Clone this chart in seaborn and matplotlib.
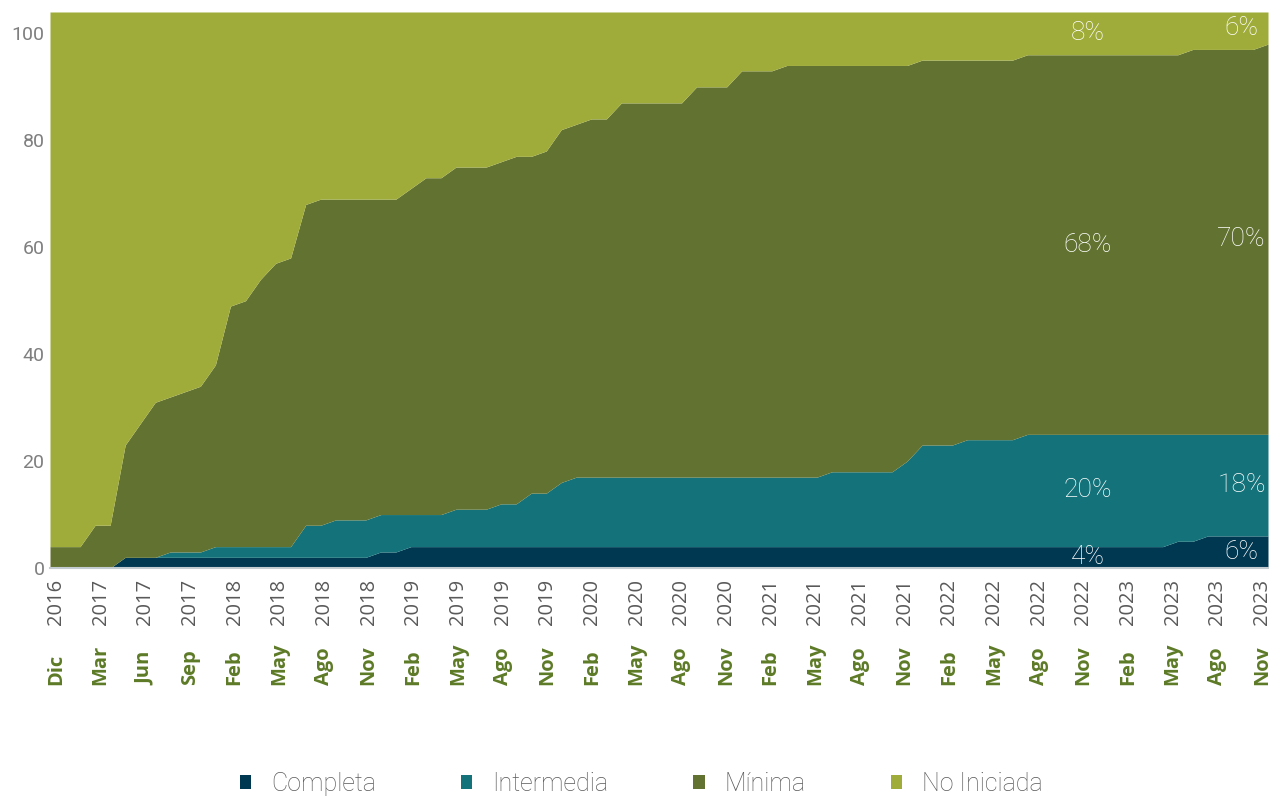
import seaborn as sns
import pandas as pd
import numpy as np
import matplotlib.pyplot as plt
from matplotlib.patches import Patch

# monthly counts per state (82 reports, total 104)
completa = [0, 0, 0, 0, 0, 2, 2, 2, 2, 2, 2, 2, 2, 2, 2, 2, 2, 2, 2, 2,
            2, 2, 3, 3, 4, 4, 4, 4, 4, 4, 4, 4, 4, 4, 4, 4, 4, 4, 4, 4,
            4, 4, 4, 4, 4, 4, 4, 4, 4, 4, 4, 4, 4, 4, 4, 4, 4, 4, 4, 4,
            4, 4, 4, 4, 4, 4, 4, 4, 4, 4, 4, 4, 4, 4, 4, 5, 5, 6, 6, 6, 6, 6]
intermedia = [0, 0, 0, 0, 0, 0, 0, 0, 1, 1, 1, 2, 2, 2, 2, 2, 2, 6, 6, 7,
              7, 7, 7, 7, 6, 6, 6, 7, 7, 7, 8, 8, 10, 10, 12, 13, 13, 13, 13, 13,
              13, 13, 13, 13, 13, 13, 13, 13, 13, 13, 13, 13, 14, 14, 14, 14, 14, 16, 19, 19,
              19, 20, 20, 20, 20, 21, 21, 21, 21, 21, 21, 21, 21, 21, 21, 20, 20, 19, 19, 19, 19, 19]
minima = [4, 4, 4, 8, 8, 21, 25, 29, 29, 30, 31, 34, 45, 46, 50, 53, 54, 60, 61, 60,
          60, 60, 59, 59, 61, 63, 63, 64, 64, 64, 64, 65, 63, 64, 66, 66, 67, 67, 70, 70,
          70, 70, 70, 73, 73, 73, 76, 76, 76, 77, 77, 77, 76, 76, 76, 76, 76, 74, 72, 72,
          72, 71, 71, 71, 71, 71, 71, 71, 71, 71, 71, 71, 71, 71, 71, 71, 72, 72, 72, 72, 72, 73]
no_iniciada = [100, 100, 100, 96, 96, 81, 77, 73, 72, 71, 70, 66, 55, 54, 50, 47, 46, 36, 35, 35,
               35, 35, 35, 35, 33, 31, 31, 29, 29, 29, 28, 27, 27, 26, 22, 21, 20, 20, 17, 17,
               17, 17, 17, 14, 14, 14, 11, 11, 11, 10, 10, 10, 10, 10, 10, 10, 10, 10, 9, 9,
               9, 9, 9, 9, 9, 8, 8, 8, 8, 8, 8, 8, 8, 8, 8, 8, 7, 7, 7, 7, 7, 6]

tick_months = ["Dic", "Mar", "Jun", "Sep", "Feb", "May", "Ago", "Nov", "Feb", "May", "Ago", "Nov",
               "Feb", "May", "Ago", "Nov", "Feb", "May", "Ago", "Nov", "Feb", "May", "Ago", "Nov",
               "Feb", "May", "Ago", "Nov"]
tick_years = ["2016", "2017", "2017", "2017", "2018", "2018", "2018", "2018", "2019", "2019", "2019", "2019",
              "2020", "2020", "2020", "2020", "2021", "2021", "2021", "2021", "2022", "2022", "2022", "2022",
              "2023", "2023", "2023", "2023"]

estados = ["Completa", "Intermedia", "Mínima", "No Iniciada"]
colores = {"Completa": "#003852", "Intermedia": "#14737a", "Mínima": "#627331", "No Iniciada": "#9fac39"}
series = {"Completa": completa, "Intermedia": intermedia, "Mínima": minima, "No Iniciada": no_iniciada}

n = len(completa)
rows = []
for est in estados:
    for i, v in enumerate(series[est]):
        rows.append({"idx": i, "estado": est, "valor": v})
df = pd.DataFrame(rows)

sns.set_theme(style="white")
plt.rcParams['font.family'] = ['Roboto', 'DejaVu Sans']

fig = plt.figure(figsize=(12.7, 7.98), dpi=100)
ax = fig.add_axes([50 / 1270, 1 - 568 / 798, 1218 / 1270, 556 / 798])

sns.histplot(data=df, x="idx", weights="valor", hue="estado",
             hue_order=estados[::-1], palette=colores, multiple="stack",
             element="poly", discrete=True, alpha=1, linewidth=0,
             legend=False, ax=ax)

total = np.array(completa) + np.array(intermedia) + np.array(minima) + np.array(no_iniciada)
ax.set_xlim(0, n - 1)
ax.set_ylim(0, total.max())
ax.set_xlabel("")
ax.set_ylabel("")

ax.set_yticks([0, 20, 40, 60, 80, 100])
ax.tick_params(axis="y", length=0, pad=4, labelsize=14, labelcolor="#7f7f7f")

tick_pos = list(range(0, n, 3))
ax.set_xticks(tick_pos)
ax.set_xticklabels([])
ax.tick_params(axis="x", length=0)
trans = ax.get_xaxis_transform()
# labels sit slightly inside the first/last category, like the original
for k, (p, m, y) in enumerate(zip(tick_pos, tick_months, tick_years)):
    lx = 0.4 + p * (n - 1.8) / (n - 1)
    ax.text(lx, -0.02, y, rotation=90, ha="center", va="top", transform=trans,
            fontsize=14.5, color="#595959", family=["Open Sans", "DejaVu Sans"])
    ax.text(lx, -0.21, m, rotation=90, ha="center", va="bottom", transform=trans,
            fontsize=14.5, color="#5d7a27", fontweight="bold", family=["Open Sans", "DejaVu Sans"])

for s in ["top", "right", "left"]:
    ax.spines[s].set_visible(False)
ax.spines["bottom"].set_color("#c3ccd0")
ax.spines["bottom"].set_linewidth(1.5)

# percentage labels at Nov 2022 and Nov 2023
for idx, xpos in [(69, 69), (n - 1, 79.25)]:
    base = 0
    tot = total[idx]
    for est in estados:
        v = series[est][idx]
        ax.text(xpos, base + v / 2, f"{round(100 * v / tot)}%", ha="center", va="center",
                color="white", fontsize=19, fontweight="light")
        base += v

handles = [Patch(facecolor=colores[e], edgecolor="none", label=e) for e in estados]
leg = fig.legend(handles=handles, loc="center", bbox_to_anchor=(0.505, 1 - 784 / 798), ncol=4,
                 frameon=False, fontsize=18, handlelength=0.45, handleheight=0.45,
                 handletextpad=0.8, columnspacing=3.4)
for t in leg.get_texts():
    t.set_color("#595959")
    t.set_fontweight("light")

fig.savefig("out.png", dpi=100)
